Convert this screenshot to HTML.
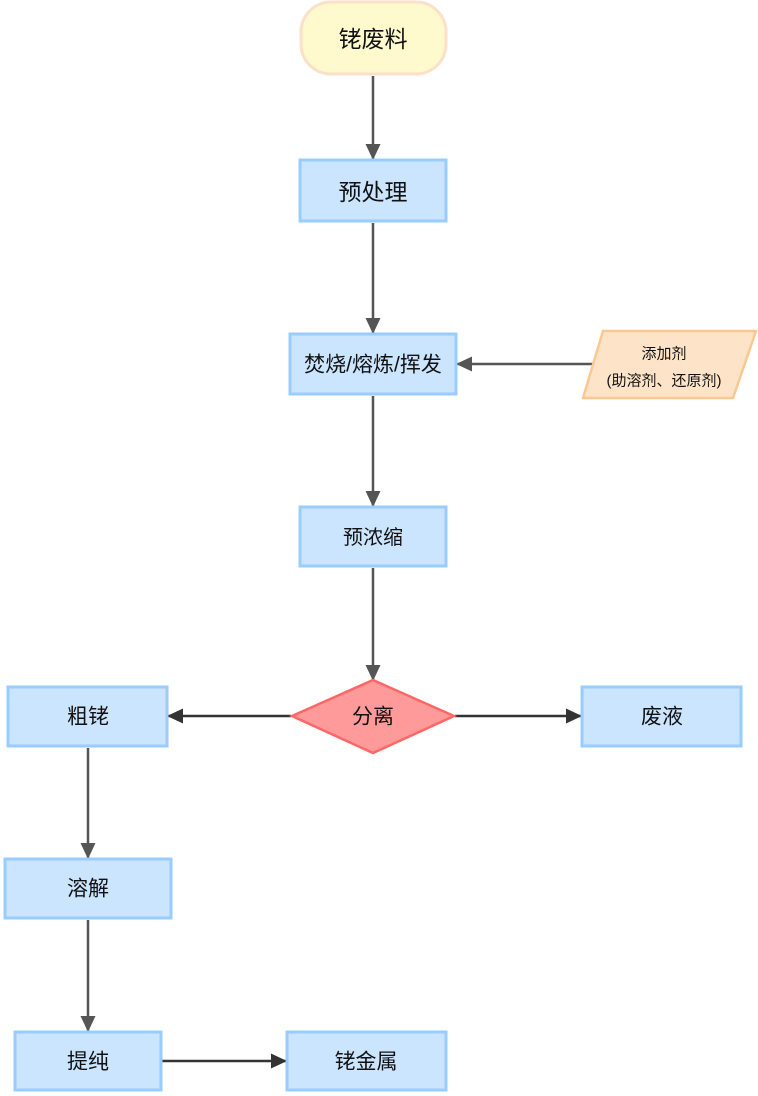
<!DOCTYPE html>
<html><head><meta charset="utf-8"><style>
html,body{margin:0;padding:0;background:#fff}
svg{display:block}
text{font-family:"Liberation Sans","WenQuanYi Zen Hei","Noto Sans CJK SC",sans-serif;fill:#111;text-anchor:middle;dominant-baseline:central}
</style></head><body>
<svg width="758" height="1096" viewBox="0 0 758 1096" xmlns="http://www.w3.org/2000/svg">
<defs>
<marker id="a" markerWidth="16" markerHeight="16" refX="15" refY="8" orient="auto" markerUnits="userSpaceOnUse" viewBox="0 0 16 16"><path d="M0,0.5 L16,8 L0,15.5 z" fill="#555"/></marker>
<marker id="b" markerWidth="16" markerHeight="16" refX="15" refY="8" orient="auto" markerUnits="userSpaceOnUse" viewBox="0 0 16 16"><path d="M0,0.5 L16,8 L0,15.5 z" fill="#333"/></marker>
</defs>
<g stroke-width="2.5" fill="none">
<line x1="373" y1="76" x2="373" y2="159" stroke="#555" marker-end="url(#a)"/>
<line x1="373" y1="223" x2="373" y2="333" stroke="#555" marker-end="url(#a)"/>
<line x1="595" y1="364" x2="457" y2="364" stroke="#555" marker-end="url(#a)"/>
<line x1="373" y1="396" x2="373" y2="506" stroke="#555" marker-end="url(#a)"/>
<line x1="373" y1="568" x2="373" y2="680" stroke="#555" marker-end="url(#a)"/>
<line x1="291" y1="716" x2="168" y2="716" stroke="#333" marker-end="url(#b)"/>
<line x1="455" y1="716" x2="581" y2="716" stroke="#333" marker-end="url(#b)"/>
<line x1="88" y1="748" x2="88" y2="858" stroke="#555" marker-end="url(#a)"/>
<line x1="88" y1="920" x2="88" y2="1031" stroke="#555" marker-end="url(#a)"/>
<line x1="161" y1="1061" x2="286" y2="1061" stroke="#333" marker-end="url(#b)"/>
</g>
<g stroke-width="3">
<rect x="301" y="2" width="145" height="72" rx="30" fill="#fffacd" stroke="#fde0c8"/>
<rect x="300" y="160" width="146" height="61" fill="#cce5ff" stroke="#99ccff"/>
<rect x="290" y="334" width="166" height="60" fill="#cce5ff" stroke="#99ccff"/>
<polygon points="603,331 756,331 733,398 583,398" fill="#fde4c8" stroke="#fcc891" stroke-width="2.5"/>
<rect x="300" y="507" width="146" height="59" fill="#cce5ff" stroke="#99ccff"/>
<polygon points="373,680 454,716 373,753 292,716" fill="#ff9a9a" stroke="#ff6666" stroke-width="2.5"/>
<rect x="8" y="687" width="159" height="59" fill="#cce5ff" stroke="#99ccff"/>
<rect x="582" y="687" width="159" height="59" fill="#cce5ff" stroke="#99ccff"/>
<rect x="5" y="859" width="166" height="59" fill="#cce5ff" stroke="#99ccff"/>
<rect x="15" y="1032" width="146" height="58" fill="#cce5ff" stroke="#99ccff"/>
<rect x="287" y="1032" width="159" height="58" fill="#cce5ff" stroke="#99ccff"/>
</g>
<text x="373" y="39" font-size="23">铑废料</text>
<text x="373" y="192" font-size="23">预处理</text>
<text x="373" y="365" font-size="21">焚烧/熔炼/挥发</text>
<text x="664" y="354" font-size="15">添加剂</text>
<text x="664" y="381" font-size="15">(助溶剂、还原剂)</text>
<text x="373" y="538" font-size="20">预浓缩</text>
<text x="373" y="717" font-size="21">分离</text>
<text x="88" y="717" font-size="21">粗铑</text>
<text x="662" y="717" font-size="21">废液</text>
<text x="88" y="889" font-size="21">溶解</text>
<text x="88" y="1062" font-size="21">提纯</text>
<text x="366" y="1062" font-size="21">铑金属</text>
</svg>
</body></html>
